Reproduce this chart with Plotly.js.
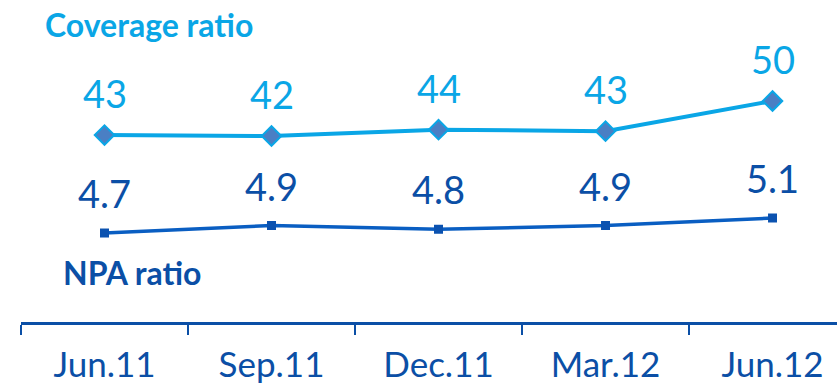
<!DOCTYPE html>
<html>
<head>
<meta charset="utf-8">
<script src="https://cdn.plot.ly/plotly-3.0.1.min.js"></script>
<style>html,body{margin:0;padding:0;background:#fff;}#chart{width:837px;height:384px;}</style>
</head>
<body>
<div id="chart"></div>
<script>
const categories = ["Jun.11", "Sep.11", "Dec.11", "Mar.12", "Jun.12"];
const coverageRatio = [42.6, 42.4, 43.7, 43.4, 49.6];
const coverageLabels = ["43", "42", "44", "43", "50"];
const npaRatio = [4.7, 4.9, 4.8, 4.9, 5.1];
const npaLabels = ["4.7", "4.9", "4.8", "4.9", "5.1"];

const light = "#0aa6e6";
const dark = "#0b4fa6";
const font = "Lato, 'Open Sans', sans-serif";

const W = 837, H = 384, ml = 21, mr = 0, mt = 0, mb = 62;
const pw = W - ml - mr, ph = H - mt - mb;

const traces = [
  {
    x: categories, y: coverageRatio, type: "scatter", mode: "lines+markers",
    line: {color: light, width: 4},
    marker: {symbol: "diamond", size: 15, color: "#4a7fc4", line: {color: light, width: 2}},
    yaxis: "y", hoverinfo: "skip"
  },
  {
    x: categories, y: npaRatio, type: "scatter", mode: "lines+markers",
    line: {color: "#0a5ec2", width: 3.5},
    marker: {symbol: "square", size: 9, color: "#0b52b0"},
    yaxis: "y2", hoverinfo: "skip"
  }
];

const annotations = [];
categories.forEach((c, i) => {
  annotations.push({x: c, y: coverageRatio[i], xref: "x", yref: "y", text: coverageLabels[i],
    showarrow: false, yanchor: "bottom", yshift: 17, font: {family: font, size: 38, color: light}});
  annotations.push({x: c, y: npaRatio[i], xref: "x", yref: "y2", text: npaLabels[i],
    showarrow: false, yanchor: "bottom", yshift: 15, font: {family: font, size: 38, color: dark}});
});
annotations.push({xref: "paper", yref: "paper", x: (43 - ml) / pw, y: 1 - (25 - mt) / ph,
  xanchor: "left", yanchor: "middle", text: "<b>Coverage ratio</b>", showarrow: false,
  font: {family: font, size: 32, color: light}});
annotations.push({xref: "paper", yref: "paper", x: (61 - ml) / pw, y: 1 - (272 - mt) / ph,
  xanchor: "left", yanchor: "middle", text: "<b>NPA ratio</b>", showarrow: false,
  font: {family: font, size: 32, color: dark}});

const layout = {
  width: W, height: H,
  margin: {l: ml, r: mr, t: mt, b: mb, pad: 0},
  paper_bgcolor: "#fff", plot_bgcolor: "#fff",
  showlegend: false,
  xaxis: {
    type: "category", range: [-0.5, 4.386],
    showline: true, linecolor: dark, linewidth: 3,
    ticks: "outside", tickson: "boundaries", ticklen: 10, tickwidth: 2, tickcolor: dark,
    ticklabelstandoff: 10,
    showgrid: false, zeroline: false,
    tickfont: {family: font, size: 35, color: dark}
  },
  yaxis: {range: [4.13, 70.39], visible: false, fixedrange: true},
  yaxis2: {range: [2.327, 10.913], overlaying: "y", visible: false},
  annotations: annotations
};

Plotly.newPlot("chart", traces, layout, {displayModeBar: false, staticPlot: true});
</script>
</body>
</html>
